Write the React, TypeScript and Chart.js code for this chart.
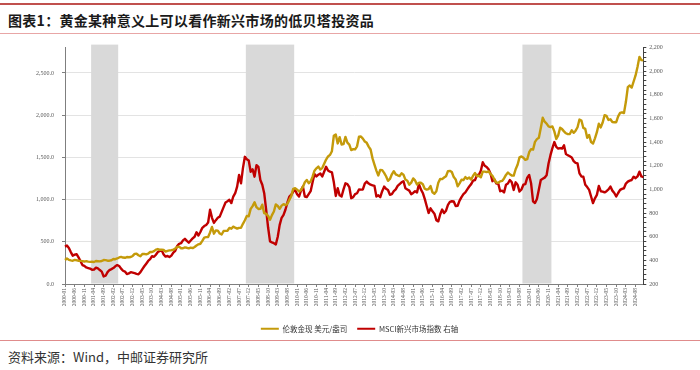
import React, { useEffect, useRef } from 'react';
import { Chart, registerables } from 'chart.js';

Chart.register(...registerables);

// ---------- data ----------
const firstYear = 2000;
const monthCount = 300; // 2000-01 .. 2024-12
const months: string[] = [];
for (let i = 0; i < monthCount; i++) {
  const y = firstYear + Math.floor(i / 12);
  const m = (i % 12) + 1;
  months.push(`${y}-${m < 10 ? '0' + m : m}`);
}
const labelEvery = 5;

// 伦敦金现 美元/盎司 (left axis)
const goldPrice = [
  284.6, 300.9, 286.4, 280.0, 275.3, 285.7, 281.6, 274.5, 273.7, 270.6, 266.0, 271.5,
  265.5, 261.9, 263.0, 260.5, 272.4, 270.2, 268.0, 272.4, 283.4, 283.1, 276.2, 275.9,
  281.7, 295.5, 294.0, 302.7, 314.5, 321.2, 313.3, 310.3, 319.2, 316.6, 319.1, 332.6,
  356.9, 359.0, 340.6, 328.2, 355.7, 356.4, 351.0, 359.8, 378.9, 378.9, 389.9, 407.6,
  414.0, 405.3, 406.7, 403.0, 383.5, 392.0, 398.1, 400.5, 405.3, 420.5, 439.4, 442.1,
  424.2, 423.4, 434.2, 428.9, 421.9, 430.7, 424.5, 437.9, 456.0, 469.9, 476.7, 510.1,
  549.9, 555.0, 557.1, 610.6, 675.4, 596.2, 633.7, 632.6, 598.2, 585.8, 627.8, 629.8,
  631.2, 664.8, 654.9, 679.4, 666.9, 655.5, 665.3, 665.4, 712.7, 754.6, 806.3, 803.2,
  889.6, 922.3, 968.4, 909.7, 888.7, 889.5, 939.8, 839.0, 829.9, 806.6, 760.9, 816.1,
  858.7, 943.2, 924.3, 890.2, 928.6, 945.7, 934.2, 949.4, 996.6, 1043.2, 1127.0, 1134.7,
  1118.0, 1095.4, 1113.3, 1148.7, 1205.4, 1232.9, 1193.0, 1215.8, 1271.0, 1342.0, 1369.9, 1390.6,
  1356.4, 1372.7, 1424.0, 1473.8, 1510.4, 1528.7, 1572.8, 1755.8, 1771.9, 1665.2, 1739.0, 1652.3,
  1656.1, 1742.6, 1673.8, 1650.1, 1585.5, 1596.7, 1594.3, 1630.3, 1744.5, 1746.6, 1721.6, 1688.5,
  1671.9, 1627.6, 1593.1, 1487.9, 1414.0, 1343.4, 1285.5, 1351.7, 1348.6, 1316.6, 1275.8, 1221.5,
  1244.3, 1299.6, 1336.1, 1299.0, 1287.5, 1279.1, 1310.6, 1295.1, 1236.6, 1222.5, 1175.3, 1200.6,
  1250.8, 1227.1, 1178.6, 1198.9, 1198.6, 1181.5, 1128.3, 1117.9, 1124.8, 1159.3, 1086.4, 1068.3,
  1097.9, 1199.5, 1245.1, 1242.3, 1260.9, 1276.4, 1336.7, 1340.2, 1326.6, 1266.6, 1238.4, 1157.4,
  1192.1, 1234.2, 1231.4, 1266.9, 1246.0, 1260.3, 1236.8, 1283.0, 1314.1, 1279.5, 1281.9, 1264.5,
  1331.3, 1330.7, 1324.7, 1334.8, 1303.5, 1281.6, 1237.7, 1201.7, 1198.4, 1215.4, 1220.7, 1250.4,
  1291.8, 1320.1, 1300.9, 1285.9, 1283.7, 1359.0, 1412.9, 1500.4, 1510.6, 1494.8, 1470.8, 1479.1,
  1560.7, 1597.1, 1591.9, 1683.2, 1715.9, 1732.2, 1846.5, 1968.6, 1921.9, 1900.3, 1866.3, 1858.4,
  1867.0, 1808.2, 1718.2, 1760.0, 1850.3, 1834.6, 1807.8, 1785.3, 1775.1, 1776.9, 1821.2, 1790.2,
  1816.0, 1856.3, 1947.8, 1936.7, 1848.5, 1836.6, 1732.7, 1764.6, 1680.9, 1664.5, 1725.1, 1797.6,
  1898.4, 1854.4, 1912.7, 1999.6, 1991.1, 1942.9, 1951.0, 1918.7, 1915.8, 1916.3, 1985.5, 2026.9,
  2033.9, 2024.4, 2158.0, 2330.8, 2350.9, 2326.8, 2398.4, 2470.8, 2570.9, 2690.0, 2651.0, 2648.0,
];

// MSCI新兴市场指数 (right axis)
const msciEM = [
  516, 525, 505, 470, 440, 448, 452, 425, 395, 360, 353, 340,
  335, 330, 320, 322, 338, 332, 318, 305, 264, 270, 300, 318,
  326, 335, 350, 360, 352, 330, 312, 305, 284, 290, 300, 296,
  292, 286, 282, 300, 326, 350, 372, 395, 410, 435, 430, 448,
  470, 480, 485, 450, 432, 437, 428, 440, 465, 480, 521, 540,
  545, 569, 582, 565, 550, 568, 586, 600, 638, 610, 640, 675,
  690, 700, 720, 829, 760, 717, 740, 760, 770, 810, 850, 890,
  900, 912, 885, 940, 968, 1024, 1122, 1052, 1180, 1276, 1255, 1245,
  1150, 1170, 1108, 1206, 1190, 1080, 1040, 968, 829, 680, 560, 552,
  545, 535, 600, 700, 760, 785, 830, 890, 940, 955, 982, 996,
  960, 940, 990, 1024, 940, 935, 960, 985, 1060, 1130, 1110, 1125,
  1135, 1110, 1150, 1192, 1160, 1150, 1145, 1060, 945, 1010, 950, 940,
  1000, 1052, 1045, 1020, 926, 935, 960, 968, 1000, 998, 1000, 1050,
  1066, 1050, 1040, 1035, 1030, 940, 950, 935, 985, 1024, 1005, 995,
  955, 960, 985, 1000, 1030, 1045, 1060, 1070, 1010, 1000, 990, 960,
  970, 985, 975, 1045, 1000, 970, 920, 860, 801, 840, 815, 795,
  740, 730, 790, 830, 800, 820, 870, 895, 900, 898, 860, 862,
  905, 935, 960, 975, 1000, 1025, 1045, 1075, 1080, 1120, 1125, 1158,
  1230, 1200, 1190, 1170, 1135, 1070, 1085, 1050, 1050, 985, 990, 975,
  1040, 1050, 1080, 1060, 996, 1060, 1040, 982, 1000, 1040, 1045, 1100,
  1122, 1050, 900, 885, 920, 1000, 1080, 1090, 1100, 1120, 1220, 1290,
  1350, 1401, 1360, 1346, 1350, 1346, 1373, 1300, 1290, 1280, 1270, 1240,
  1225, 1220, 1136, 1110, 1108, 1040, 1020, 996, 940, 885, 925, 954,
  1030, 985, 982, 975, 985, 1000, 1024, 990, 970, 940, 970, 996,
  1005, 1010, 1050, 1066, 1075, 1080, 1108, 1095, 1110, 1150, 1110, 1105,
];

// shaded periods
const shadeStart = ['2001-03', '2007-11', '2019-10'];
const shadeEnd = ['2002-04', '2009-11', '2020-12'];

// axes
const leftMin = 0;
const leftMax = 2800;
const leftTicks = [0, 500, 1000, 1500, 2000, 2500];
const rightMin = 200;
const rightMax = 2200;
const rightMinorStep = 40;
const rightLabelStep = 200;

const seriesNames = ['伦敦金现 美元/盎司', 'MSCI新兴市场指数 右轴'];
const GOLD = '#C49A0A';
const RED = '#C00000';

const TICK_FONT = "'Liberation Serif', 'Times New Roman', serif";
const CJK_FONT = "'Noto Sans CJK SC', 'Noto Sans', sans-serif";

const shadePlugin = {
  id: 'shadePeriods',
  beforeDatasetsDraw(chart: any) {
    const { ctx, chartArea, scales } = chart;
    const x = scales.x;
    const half = (x.getPixelForValue(1) - x.getPixelForValue(0)) / 2;
    ctx.save();
    ctx.fillStyle = '#D9D9D9';
    shadeStart.forEach((s, i) => {
      const a = x.getPixelForValue(months.indexOf(s)) - half;
      const b = x.getPixelForValue(months.indexOf(shadeEnd[i])) + half;
      ctx.fillRect(a, chartArea.top - 3, b - a, chartArea.bottom - chartArea.top + 2.5);
    });
    ctx.restore();
  },
};

function ChartCanvas() {
  const ref = useRef<HTMLCanvasElement | null>(null);
  useEffect(() => {
    if (!ref.current) return;
    const rightTicks: number[] = [];
    for (let v = rightMin; v <= rightMax; v += rightMinorStep) rightTicks.push(v);
    const chart = new Chart(ref.current, {
      type: 'line',
      data: {
        labels: months,
        datasets: [
          {
            label: seriesNames[0],
            data: goldPrice,
            yAxisID: 'y',
            borderColor: GOLD,
            backgroundColor: GOLD,
            borderWidth: 2.4,
            pointRadius: 0,
            tension: 0,
            borderJoinStyle: 'round',
          },
          {
            label: seriesNames[1],
            data: msciEM,
            yAxisID: 'y1',
            borderColor: RED,
            backgroundColor: RED,
            borderWidth: 2.4,
            pointRadius: 0,
            tension: 0,
            borderJoinStyle: 'round',
          },
        ],
      },
      options: {
        animation: false,
        responsive: false,
        maintainAspectRatio: false,
        devicePixelRatio: 1,
        layout: { padding: { top: 10.7, left: 19, right: 0, bottom: 3.5 } },
        plugins: {
          tooltip: { enabled: false },
          legend: {
            position: 'bottom',
            labels: {
              boxWidth: 18,
              boxHeight: 2,
              padding: 10,
              color: '#333333',
              font: { size: 7.5, family: CJK_FONT },
              generateLabels(c: any) {
                const items = (Chart.defaults.plugins.legend.labels as any).generateLabels(c);
                items.forEach((it: any) => {
                  it.lineWidth = 0;
                  it.fillStyle = it.strokeStyle;
                });
                return items;
              },
            },
          },
        },
        scales: {
          x: {
            type: 'category',
            offset: false,
            afterBuildTicks(s: any) {
              s.ticks = s.ticks.filter((t: any) => t.value % labelEvery === 0);
            },
            afterFit(s: any) {
              s.height = 31;
            },
            grid: {
              drawOnChartArea: false,
              tickLength: 3,
              tickColor: '#7f7f7f',
            },
            border: { color: '#7f7f7f', width: 1 },
            ticks: {
              autoSkip: false,
              minRotation: 90,
              maxRotation: 90,
              padding: 1,
              color: '#595959',
              font: { size: 5.5, family: TICK_FONT },
            },
          },
          y: {
            position: 'left',
            min: leftMin,
            max: leftMax,
            afterFit(s: any) {
              s.width = 46;
            },
            afterBuildTicks(s: any) {
              s.ticks = leftTicks.map((v) => ({ value: v }));
            },
            grid: {
              color: (c: any) => (c.tick && c.tick.value === 0 ? 'rgba(0,0,0,0)' : '#E3E3E3'),
              drawTicks: true,
              tickLength: 3,
              tickColor: '#7f7f7f',
            },
            border: { color: '#7f7f7f', width: 1 },
            ticks: {
              autoSkip: false,
              padding: 8,
              color: '#595959',
              font: { size: 6, family: TICK_FONT },
              callback: (v: any) =>
                Number(v).toLocaleString('en-US', { minimumFractionDigits: 1, maximumFractionDigits: 1 }),
            },
          },
          y1: {
            position: 'right',
            min: rightMin,
            max: rightMax,
            afterFit(s: any) {
              s.width = 56.7;
            },
            afterBuildTicks(s: any) {
              s.ticks = rightTicks.map((v) => ({ value: v }));
            },
            grid: {
              drawOnChartArea: false,
              tickLength: 3,
              tickColor: '#404040',
            },
            border: { color: '#404040', width: 1 },
            ticks: {
              autoSkip: false,
              padding: 3,
              color: '#595959',
              font: { size: 6, family: TICK_FONT },
              callback: (v: any) =>
                Number(v) % rightLabelStep === 0 ? Number(v).toLocaleString('en-US') : '',
            },
          },
        },
      } as any,
      plugins: [shadePlugin],
    });
    return () => chart.destroy();
  }, []);
  return (
    <canvas
      ref={ref}
      width={700}
      height={310}
      style={{ position: 'absolute', left: 0, top: 36, width: 700, height: 310 }}
    />
  );
}

export default function App() {
  return (
    <div
      style={{
        position: 'fixed',
        left: 0,
        top: 0,
        width: 700,
        height: 370,
        background: '#ffffff',
        overflow: 'hidden',
      }}
    >
      <div style={{ position: 'absolute', left: 0, top: 3, width: 700, height: 2, background: '#C0504D' }} />
      <div
        style={{
          position: 'absolute',
          left: 8,
          top: 11,
          fontFamily: CJK_FONT,
          fontWeight: 700,
          fontSize: 14,
          lineHeight: '18px',
          color: '#1a1a1a',
          letterSpacing: 0.3,
          whiteSpace: 'nowrap',
        }}
      >
        图表1：黄金某种意义上可以看作新兴市场的低贝塔投资品
      </div>
      <div style={{ position: 'absolute', left: 0, top: 33, width: 700, height: 1, background: '#E8A6A6' }} />
      <ChartCanvas />
      <div style={{ position: 'absolute', left: 0, top: 340, width: 700, height: 1, background: '#E08C8C' }} />
      <div
        style={{
          position: 'absolute',
          left: 8,
          top: 348,
          fontFamily: CJK_FONT,
          fontSize: 13,
          lineHeight: '17px',
          color: '#333333',
          whiteSpace: 'nowrap',
        }}
      >
        资料来源：Wind，中邮证券研究所
      </div>
    </div>
  );
}
